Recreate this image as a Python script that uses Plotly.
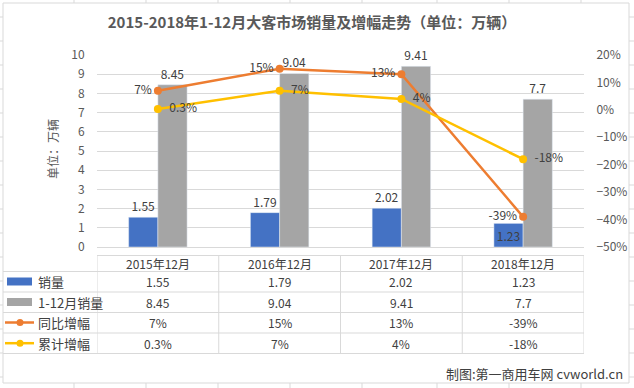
import plotly.graph_objects as go

# ---------------- data ----------------
categories = ["2015年12月", "2016年12月", "2017年12月", "2018年12月"]
sales_dec = [1.55, 1.79, 2.02, 1.23]          # 销量
sales_ytd = [8.45, 9.04, 9.41, 7.7]           # 1-12月销量
yoy_growth = [7, 15, 13, -39]                 # 同比增幅 (%)
cum_growth = [0.3, 7, 4, -18]                 # 累计增幅 (%)
series_names = ["销量", "1-12月销量", "同比增幅", "累计增幅"]
title_text = "2015-2018年1-12月大客市场销量及增幅走势（单位：万辆）"
y_title = "单位：万辆"
credit = "制图:第一商用车网 cvworld.cn"

# ---------------- style ----------------
W, H = 634, 388
L, R, T, B = 97, 584, 55, 247   # plot area in pixels
BLUE, GRAY, ORANGE, YELLOW = "#4472C4", "#A5A5A5", "#ED7D31", "#FFC000"
GRID = "#d9d9d9"
TXT = "#404040"
TICK = "#595959"
FONT = "Noto Sans CJK SC, Noto Sans, sans-serif"


def fx(px):
    return (px - L) / (R - L)


def fy(py):
    return (B - py) / (B - T)


def num(v):
    return f"{v:g}"


def pct(v):
    return f"{v:g}%"


fig = go.Figure()

fig.add_trace(go.Bar(
    x=categories, y=sales_dec, name=series_names[0], marker_color=BLUE,
    text=[num(v) for v in sales_dec],
    textposition=["outside", "outside", "outside", "inside"],
    insidetextanchor="middle", constraintext="none",
    textfont=dict(color=TXT, size=12), insidetextfont=dict(color=TXT, size=12),
    outsidetextfont=dict(color=TXT, size=12),
    cliponaxis=False, showlegend=False, hoverinfo="skip",
))
fig.add_trace(go.Bar(
    x=categories, y=sales_ytd, name=series_names[1], marker_color=GRAY,
    text=[num(v) for v in sales_ytd], textposition="outside", constraintext="none",
    textfont=dict(color=TXT, size=12), cliponaxis=False, showlegend=False, hoverinfo="skip",
))
fig.add_trace(go.Scatter(
    x=categories, y=yoy_growth, name=series_names[2], yaxis="y2",
    mode="lines+markers+text", line=dict(color=ORANGE, width=2.5),
    marker=dict(color=ORANGE, size=8),
    text=[pct(v) for v in yoy_growth], textposition="middle left",
    textfont=dict(color=TXT, size=12), cliponaxis=False, showlegend=False, hoverinfo="skip",
))
fig.add_trace(go.Scatter(
    x=categories, y=cum_growth, name=series_names[3], yaxis="y2",
    mode="lines+markers+text", line=dict(color=YELLOW, width=2.5),
    marker=dict(color=YELLOW, size=8),
    text=["  " + pct(v) for v in cum_growth], textposition="middle right",
    textfont=dict(color=TXT, size=12), cliponaxis=False, showlegend=False, hoverinfo="skip",
))

shapes = []
annotations = []

# chart border
shapes.append(dict(type="rect", xref="paper", yref="paper",
                   x0=fx(3), x1=fx(629), y0=fy(383), y1=fy(3),
                   line=dict(color=GRID, width=1), layer="below"))
# spreadsheet cell lines outside the chart
for ry in range(17, 388, 24):
    for (a, b) in [(0, 3), (629, 634)]:
        shapes.append(dict(type="line", xref="paper", yref="paper",
                           x0=fx(a), x1=fx(b), y0=fy(ry), y1=fy(ry),
                           line=dict(color=GRID, width=1)))
for cx in [74, 146, 218, 290, 362, 437, 509, 581]:
    for (a, b) in [(0, 3), (383, 388)]:
        shapes.append(dict(type="line", xref="paper", yref="paper",
                           x0=fx(cx), x1=fx(cx), y0=fy(a), y1=fy(b),
                           line=dict(color=GRID, width=1)))

# data table
row_lines = [271.5, 292, 312.5, 333, 353.5]
header_top = 255.5
shapes.append(dict(type="line", xref="paper", yref="paper",
                   x0=fx(L), x1=fx(R), y0=fy(header_top), y1=fy(header_top),
                   line=dict(color=GRID, width=1)))
for ry in row_lines:
    shapes.append(dict(type="line", xref="paper", yref="paper",
                       x0=fx(3), x1=fx(R), y0=fy(ry), y1=fy(ry),
                       line=dict(color=GRID, width=1)))
for i in range(len(categories) + 1):
    shapes.append(dict(type="line", xref="x", yref="paper",
                       x0=i - 0.5, x1=i - 0.5, y0=fy(header_top), y1=fy(row_lines[-1]),
                       line=dict(color=GRID, width=1)))

header_y = 263
row_y = [281.5, 302, 322.5, 343.2]
for c in categories:
    annotations.append(dict(x=c, xref="x", y=fy(header_y), yref="paper", text=c,
                            xanchor="center", yanchor="middle",
                            showarrow=False, font=dict(size=12, color=TXT)))
table_rows = [
    [num(v) for v in sales_dec],
    [num(v) for v in sales_ytd],
    [pct(v) for v in yoy_growth],
    [pct(v) for v in cum_growth],
]
for r, vals in enumerate(table_rows):
    for c, v in zip(categories, vals):
        annotations.append(dict(x=c, xref="x", y=fy(row_y[r]), yref="paper", text=v,
                                xanchor="center", yanchor="middle",
                                showarrow=False, font=dict(size=12, color=TXT)))
    annotations.append(dict(x=fx(36), xref="paper", y=fy(row_y[r]), yref="paper",
                            text=series_names[r], xanchor="left", yanchor="middle",
                            showarrow=False, font=dict(size=13, color=TXT)))

# legend keys in table
for r, col in enumerate([BLUE, GRAY]):
    shapes.append(dict(type="rect", xref="paper", yref="paper",
                       x0=fx(7), x1=fx(32), y0=fy(row_y[r] + 4), y1=fy(row_y[r] - 4),
                       fillcolor=col, line=dict(width=0)))
for r, col in [(2, ORANGE), (3, YELLOW)]:
    shapes.append(dict(type="line", xref="paper", yref="paper",
                       x0=fx(5), x1=fx(34), y0=fy(row_y[r]), y1=fy(row_y[r]),
                       line=dict(color=col, width=2.5)))
    shapes.append(dict(type="circle", xref="paper", yref="paper",
                       x0=fx(16.5), x1=fx(23.5), y0=fy(row_y[r] + 3.5), y1=fy(row_y[r] - 3.5),
                       fillcolor=col, line=dict(width=0)))

# y-axis title
annotations.append(dict(x=fx(52), xref="paper", y=fy(149), yref="paper", text=y_title,
                        xanchor="center", yanchor="middle",
                        textangle=-90, showarrow=False, font=dict(size=12, color=TICK)))
# credit
annotations.append(dict(x=fx(625), xref="paper", y=fy(373), yref="paper", text=credit,
                        xanchor="right", yanchor="middle",
                        showarrow=False, font=dict(size=13, color=TXT)))

fig.update_layout(
    width=W, height=H,
    margin=dict(l=L, r=W - R, t=T, b=H - B, pad=0, autoexpand=False),
    paper_bgcolor="white", plot_bgcolor="rgba(0,0,0,0)",
    font=dict(family=FONT, color=TICK, size=12),
    title=dict(text="<b>" + title_text + "</b>", x=312 / W, xref="container", xanchor="center",
               y=1 - 23 / H, yref="container", yanchor="middle",
               font=dict(size=15, color=TICK, family=FONT)),
    barmode="group", bargap=0.52, bargroupgap=0,
    xaxis=dict(type="category", range=[-0.5, 3.5], showticklabels=False, showgrid=False,
               zeroline=False, showline=False, ticks="", automargin=False),
    yaxis=dict(range=[0, 10], dtick=1, showgrid=True, gridcolor=GRID, gridwidth=1,
               zeroline=True, zerolinecolor=GRID, zerolinewidth=1, showline=False,
               ticks="outside", ticklen=9, tickcolor="rgba(0,0,0,0)",
               tickfont=dict(size=12, color=TICK), automargin=False),
    yaxis2=dict(range=[-50, 20], dtick=10, ticksuffix="%", overlaying="y", side="right",
                showgrid=False, zeroline=False, showline=False,
                ticks="outside", ticklen=9, tickcolor="rgba(0,0,0,0)",
                tickfont=dict(size=12, color=TICK), automargin=False),
    shapes=shapes, annotations=annotations,
)

fig.write_html("out.html", config={"displayModeBar": False},
               post_script="document.body.style.margin='0';document.body.style.overflow='hidden';")
